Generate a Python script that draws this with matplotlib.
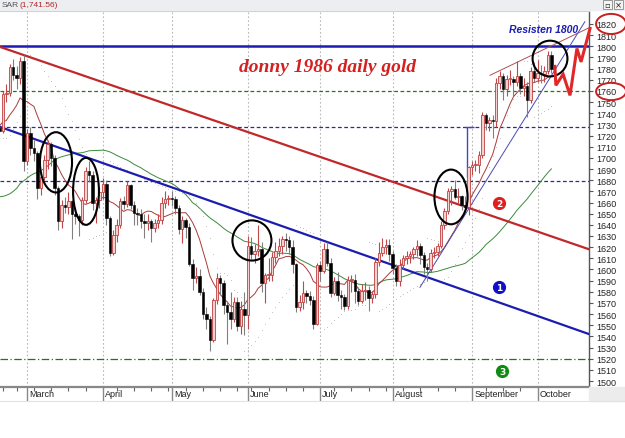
import matplotlib
matplotlib.use("Agg")
import matplotlib.pyplot as plt
import numpy as np
import pandas as pd
from matplotlib.patches import Ellipse, Rectangle

# daily gold, 17 Feb 2012 .. 5 Oct 2012 (one row per trading day)
opens = [
  1727, 1724, 1757, 1758, 1781, 1774, 1772, 1787,
  1697, 1722, 1709, 1704, 1673, 1683, 1698, 1712, 1700, 1673, 1643, 1658, 1656, 1661, 1650, 1648, 1644, 1662, 1688, 1685, 1660, 1662,
  1669, 1677, 1646, 1615, 1631, 1640, 1661, 1659, 1676, 1658, 1651, 1650, 1643, 1642, 1643, 1637, 1642, 1644, 1660, 1663,
  1664, 1663, 1655, 1636, 1644, 1638, 1605, 1592, 1594, 1580, 1560, 1556, 1537, 1573, 1592, 1588, 1568, 1562, 1556, 1571, 1549, 1565,
  1559, 1621, 1614, 1617, 1618, 1588, 1595, 1595, 1611, 1617, 1621, 1627, 1626, 1620, 1605, 1566, 1571, 1579, 1576, 1573, 1551,
  1604, 1599, 1618, 1606, 1579, 1590, 1577, 1575, 1567, 1591, 1591, 1581, 1572, 1581, 1582, 1574, 1578, 1607, 1615, 1620, 1622,
  1614, 1601, 1590, 1604, 1610, 1612, 1614, 1618, 1621, 1613, 1602, 1600, 1615, 1616, 1621, 1640, 1652, 1670, 1672, 1665, 1666, 1658, 1656,
  1692, 1694, 1694, 1703, 1738, 1731, 1734, 1733, 1767, 1773, 1762, 1771, 1771, 1768, 1773, 1763, 1764, 1752, 1778,
  1772, 1776, 1775, 1778, 1792,
]
highs = [
  1737, 1760, 1766, 1784, 1789, 1782, 1790, 1792,
  1726, 1728, 1716, 1706, 1688, 1703, 1716, 1714, 1703, 1675, 1662, 1665, 1669, 1662, 1656, 1650, 1665, 1692, 1697, 1688, 1665, 1674,
  1682, 1680, 1648, 1635, 1645, 1664, 1666, 1679, 1677, 1661, 1655, 1654, 1650, 1650, 1645, 1645, 1650, 1665, 1670, 1667,
  1670, 1666, 1658, 1648, 1646, 1642, 1609, 1602, 1600, 1583, 1566, 1558, 1574, 1597, 1595, 1591, 1572, 1580, 1575, 1575, 1572, 1580,
  1630, 1629, 1623, 1640, 1625, 1597, 1610, 1616, 1625, 1628, 1630, 1633, 1630, 1626, 1606, 1577, 1590, 1582, 1581, 1576, 1606,
  1608, 1624, 1625, 1610, 1593, 1598, 1582, 1578, 1594, 1595, 1596, 1584, 1587, 1589, 1585, 1581, 1610, 1625, 1628, 1627, 1627,
  1617, 1605, 1609, 1613, 1617, 1617, 1620, 1626, 1624, 1616, 1606, 1618, 1620, 1624, 1643, 1655, 1673, 1675, 1680, 1673, 1667, 1666, 1693,
  1697, 1698, 1706, 1741, 1740, 1737, 1738, 1772, 1778, 1776, 1774, 1779, 1773, 1787, 1776, 1772, 1768, 1781, 1786,
  1788, 1783, 1782, 1796, 1796,
]
lows = [
  1718, 1722, 1750, 1755, 1770, 1762, 1766, 1688,
  1694, 1703, 1697, 1663, 1667, 1680, 1690, 1693, 1667, 1635, 1637, 1651, 1650, 1627, 1641, 1630, 1640, 1660, 1678, 1653, 1642, 1655,
  1663, 1640, 1612, 1613, 1625, 1637, 1654, 1656, 1654, 1640, 1640, 1637, 1628, 1635, 1625, 1634, 1637, 1641, 1655, 1658,
  1657, 1650, 1632, 1624, 1628, 1603, 1582, 1588, 1577, 1556, 1547, 1527, 1535, 1569, 1577, 1560, 1533, 1547, 1553, 1545, 1542, 1541,
  1547, 1609, 1606, 1612, 1580, 1570, 1590, 1590, 1606, 1612, 1614, 1617, 1614, 1597, 1562, 1563, 1565, 1570, 1568, 1547, 1550,
  1590, 1597, 1603, 1575, 1577, 1572, 1565, 1564, 1565, 1580, 1570, 1568, 1570, 1573, 1563, 1570, 1574, 1603, 1612, 1614, 1608,
  1596, 1585, 1585, 1600, 1605, 1606, 1609, 1612, 1605, 1596, 1590, 1598, 1610, 1612, 1619, 1636, 1650, 1658, 1663, 1660, 1653, 1650, 1649,
  1685, 1688, 1686, 1700, 1725, 1724, 1718, 1728, 1762, 1752, 1755, 1765, 1755, 1764, 1757, 1755, 1737, 1749, 1768,
  1768, 1767, 1768, 1775, 1776,
]
closes = [
  1724, 1757, 1758, 1781, 1774, 1772, 1787, 1697,
  1722, 1709, 1704, 1673, 1683, 1698, 1712, 1700, 1673, 1643, 1658, 1656, 1661, 1650, 1648, 1644, 1662, 1688, 1685, 1660, 1662, 1669,
  1677, 1646, 1615, 1631, 1640, 1661, 1659, 1676, 1658, 1651, 1650, 1643, 1642, 1643, 1637, 1642, 1644, 1660, 1663, 1664,
  1663, 1655, 1636, 1644, 1638, 1605, 1592, 1594, 1580, 1560, 1556, 1537, 1573, 1592, 1588, 1568, 1562, 1556, 1571, 1549, 1565, 1559,
  1621, 1614, 1617, 1618, 1588, 1595, 1595, 1611, 1617, 1621, 1627, 1626, 1620, 1605, 1566, 1571, 1579, 1576, 1573, 1551, 1604,
  1599, 1618, 1606, 1579, 1590, 1577, 1575, 1567, 1591, 1591, 1581, 1572, 1581, 1582, 1574, 1578, 1607, 1615, 1620, 1622, 1614,
  1601, 1590, 1604, 1610, 1612, 1614, 1618, 1621, 1613, 1602, 1600, 1615, 1616, 1621, 1640, 1652, 1670, 1672, 1665, 1666, 1658, 1656, 1692,
  1694, 1694, 1703, 1738, 1731, 1734, 1733, 1767, 1773, 1762, 1771, 1771, 1768, 1773, 1763, 1764, 1752, 1778, 1772,
  1776, 1775, 1778, 1792, 1780,
]
# closes from 5 Dec 2011 to 16 Feb 2012, only used to warm up the averages
warmup_closes = [
  1720, 1731, 1741, 1712, 1712, 1666, 1635, 1573, 1577, 1597, 1596, 1617, 1614, 1607, 1606, 1595, 1557, 1540, 1565,
  1600, 1613, 1620, 1616, 1608, 1635, 1645, 1650, 1638, 1655, 1658, 1660, 1665, 1677, 1664, 1705, 1723, 1736, 1730, 1738,
  1744, 1758, 1725, 1721, 1745, 1732, 1734, 1724, 1721, 1724, 1729, 1732,
]
holidays = ["2012-02-20", "2012-04-06", "2012-05-28", "2012-07-04", "2012-09-03"]

support_levels = [1760, 1727.5, 1679]
resistance = 1800
bottom_level = 1520
# drawn trend lines: (day index, price) pairs
line_red = [(0.2, 1799.4), (171, 1618)]
line_blue = [(0.2, 1727.7), (171, 1542)]
wedge_top = [(142.2, 1774), (171.2, 1817)]
wedge_low = [(121.9, 1584), (169.7, 1822)]
measure_x = 135.4
measure = (1683, 1727.5)
# black rings: centre day, centre price, width (days), height (price)
rings = [(16.4, 1696, 9.3, 54), (25.1, 1670, 7.5, 60), (73.2, 1626, 11.3, 36),
         (130.9, 1665, 9.6, 49), (159.6, 1789, 10.1, 32)]
# red forecast stroke
w_path = [(161.0, 1782), (161.3, 1765), (163.4, 1775), (165.4, 1756), (167.4, 1798), (168.6, 1786), (171.2, 1816)]
badges = [("2", 144.8, 1660, "#e0201e"), ("1", 144.8, 1584, "#1010c8"), ("3", 145.7, 1509, "#108a10")]
label_rings = [(177.3, 1820, 8.7, 18), (177.3, 1759.5, 8.7, 15.5)]

dates = pd.bdate_range("2012-02-17", "2012-10-05")
dates = dates[~dates.isin(pd.to_datetime(holidays))]
n = len(closes)
assert len(dates) == n == len(opens) == len(highs) == len(lows)
xs = np.arange(n)


def sma(values, k):
  s = pd.Series(values, dtype=float)
  return s.rolling(k).mean().to_numpy()


def psar(h, l, step=0.02, top=0.2):
  out = np.zeros(len(h))
  up = True
  af = step
  ep = h[0]
  sar = l[0]
  for i in range(len(h)):
    if i > 0:
      sar = sar + af * (ep - sar)
      if up:
        sar = min(sar, l[i - 1], l[max(i - 2, 0)])
        if l[i] < sar:
          up, sar, ep, af = False, ep, l[i], step
        elif h[i] > ep:
          ep, af = h[i], min(af + step, top)
      else:
        sar = max(sar, h[i - 1], h[max(i - 2, 0)])
        if h[i] > sar:
          up, sar, ep, af = True, ep, h[i], step
        elif l[i] < ep:
          ep, af = l[i], min(af + step, top)
    out[i] = sar
  return out


all_closes = warmup_closes + closes
ma_fast = sma(all_closes, 10)[len(warmup_closes):]
ma_slow = sma(all_closes, 50)[len(warmup_closes):]
sar = psar(np.array(highs, float), np.array(lows, float))

W, H = 625, 439
fig = plt.figure(figsize=(W / 100, H / 100), dpi=100)
fig.patch.set_facecolor("white")
ax = fig.add_axes([0, (H - 388) / H, 589 / W, (388 - 12) / H])
ax.set_xlim(0.17, 170.9)
ax.set_ylim(1494.7, 1831.6)

# month grid
month_idx = [i for i in range(1, n) if dates[i].month != dates[i - 1].month]
week_idx = [i for i in range(1, n) if dates[i].weekday() < dates[i - 1].weekday() and i not in month_idx]
for m in month_idx:
  ax.axvline(m, color="#b8b8b8", lw=0.8, ls=(0, (1.5, 2)), zorder=0)

# horizontal levels
ax.axhline(support_levels[0], color="#1f7a1f", lw=0.9, ls=(0, (3, 2)), zorder=1)
ax.axhline(support_levels[1], color="#2a2a9a", lw=0.9, ls=(0, (3, 2)), zorder=1)
ax.axhline(support_levels[2], color="#2a2a9a", lw=0.9, ls=(0, (3, 2)), zorder=1)
ax.axhline(bottom_level, color="#2e6b2e", lw=0.9, ls=(0, (6, 2, 1, 2)), zorder=1)
ax.axhline(resistance, color="#1c1cb4", lw=1.8, zorder=3)

# indicators
ax.plot(xs, ma_slow, color="#3c8a3c", lw=0.7, zorder=2)
ax.plot(xs, ma_fast, color="#a83a3a", lw=0.7, zorder=2)
ax.plot(xs, sar, ls="none", marker="o", ms=0.6, mew=0, color="#b4b4b4", zorder=2)

# candles
for i in range(n):
  o, hi, lo, c = opens[i], highs[i], lows[i], closes[i]
  rising = c >= o
  ax.vlines(i, lo, hi, color="#c04848" if rising else "#808080", lw=0.8, zorder=4)
  body = max(abs(c - o), 0.8)
  if rising:
    ax.bar(i, body, bottom=min(o, c), width=0.72, color="#f6cfcf", edgecolor="#c04040", lw=0.6, zorder=5)
  else:
    ax.bar(i, body, bottom=min(o, c), width=0.72, color="black", edgecolor="black", lw=0.4, zorder=5)

# trend lines
ax.plot(*zip(*line_red), color="#c0282a", lw=1.6, zorder=3)
ax.plot(*zip(*line_blue), color="#1c1cb0", lw=1.6, zorder=3)
ax.plot(*zip(*wedge_top), color="#b05050", lw=0.7, zorder=3)
ax.plot(*zip(*wedge_low), color="#4a4ab8", lw=0.7, zorder=3)
ax.vlines(measure_x, measure[0], measure[1], color="#4646c0", lw=1.0, zorder=3)
ax.hlines(measure[1], measure_x - 0.5, measure_x + 2.2, color="#4646c0", lw=1.0, zorder=3)

for cx, cy, ew, eh in rings:
  ax.add_patch(Ellipse((cx, cy), ew, eh, fill=False, ec="black", lw=1.5, zorder=6))

ax.plot(*zip(*w_path), color="#e02828", lw=2.2, zorder=7, clip_on=False, solid_joinstyle="miter")
for cx, cy, ew, eh in label_rings:
  ax.add_patch(Ellipse((cx, cy), ew, eh, fill=False, ec="#c82020", lw=1.4, zorder=7, clip_on=False))

for num, bx, by, col in badges:
  ax.plot(bx, by, marker="o", ms=9.5, mew=0, color=col, zorder=7)
  ax.text(bx, by - 0.5, num, color="white", fontsize=6.5, fontweight="bold", ha="center", va="center", zorder=8)

ax.text(95.2, 1781.5, "donny 1986 daily gold", family="Liberation Serif", fontsize=14,
        fontweight="bold", style="italic", color="#d42020", ha="center", va="center", zorder=8)
ax.text(157.6, 1815.5, "Resisten 1800", family="Liberation Sans", fontsize=7.5,
        fontweight="bold", style="italic", color="#1c1cb0", ha="center", va="center", zorder=8)

# axes styling
ax.yaxis.tick_right()
ax.set_yticks(np.arange(1500, 1821, 10))
ax.tick_params(axis="y", which="major", length=3, width=0.8, color="#555555", labelsize=6.5,
               labelcolor="#222222", pad=2)
for lab in ax.get_yticklabels():
  lab.set_family("Liberation Sans")
ax.set_xticks(month_idx)
ax.set_xticklabels([d.strftime("%B") for d in dates[month_idx]], family="Liberation Sans", fontsize=6.5,
                   color="#222222", ha="left")
ax.set_xticks(week_idx, minor=True)
ax.tick_params(axis="x", which="major", length=10, width=1.0, color="#888888", pad=-8.5)
ax.tick_params(axis="x", which="minor", length=3, width=0.8, color="#666666")
offset = matplotlib.transforms.ScaledTranslation(2 / 100, 0, fig.dpi_scale_trans)
for lab in ax.get_xticklabels():
  lab.set_transform(lab.get_transform() + offset)

ax.spines["left"].set_visible(False)
ax.spines["top"].set_color("#cccccc")
ax.spines["top"].set_linewidth(0.8)
ax.spines["right"].set_color("#555555")
ax.spines["right"].set_linewidth(1.0)
ax.spines["bottom"].set_color("#888888")
ax.spines["bottom"].set_linewidth(1.6)

# header strip and frame bits
fig.patches.append(Rectangle((0, (H - 11) / H), 1, 11 / H, transform=fig.transFigure, color="#eceef2", zorder=0))
fig.patches.append(Rectangle((589 / W, (H - 402) / H), 36 / W, 14 / H, transform=fig.transFigure, color="#ececec", zorder=0))
fig.lines.append(plt.Line2D([0, 1], [(H - 402) / H] * 2, transform=fig.transFigure, color="#e2e2e2", lw=0.8))
fig.text(2 / W, (H - 5.5) / H, "SAR", fontsize=6, color="#555555", va="center", family="Liberation Sans")
fig.text(19 / W, (H - 5.5) / H, "(1,741.56)", fontsize=6, color="#b02828", va="center", family="Liberation Sans")
for bx, glyph in [(603, "\u25ab"), (614, "\u00d7")]:
  fig.patches.append(Rectangle((bx / W, (H - 10) / H), 9 / W, 9 / H, transform=fig.transFigure,
                               fc="#f4f4f4", ec="#888888", lw=0.6))
  fig.text((bx + 4.5) / W, (H - 5.5) / H, glyph, fontsize=6, ha="center", va="center", color="#222222")

fig.savefig("out.png", dpi=100)
